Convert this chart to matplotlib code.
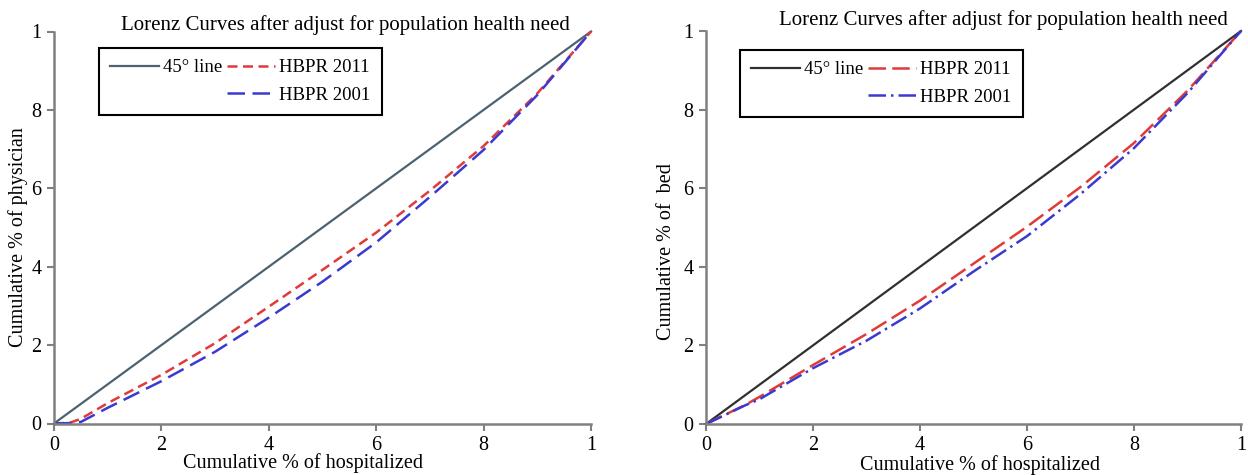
import matplotlib
matplotlib.use("Agg")
import matplotlib.pyplot as plt
from matplotlib.lines import Line2D

plt.rcParams['font.family'] = ['Liberation Serif', 'DejaVu Serif']

# cumulative share of hospitalized (x) and resources (y)
equality = [0.0, 1.0]

phys_x = [0.0, 0.03, 0.05, 0.1, 0.2, 0.3, 0.4, 0.5, 0.6, 0.7, 0.8, 0.9, 1.0]
phys_2011 = [0.0, 0.002, 0.012, 0.052, 0.124, 0.205, 0.298, 0.392, 0.487, 0.594, 0.708, 0.842, 1.0]
phys_2001 = [0.0, 0.001, 0.004, 0.040, 0.108, 0.183, 0.270, 0.362, 0.462, 0.578, 0.698, 0.838, 1.0]

bed_x = [0.0, 0.074, 0.1, 0.2, 0.3, 0.4, 0.5, 0.6, 0.7, 0.8, 0.9, 1.0]
bed_2011 = [0.0, 0.049, 0.069, 0.150, 0.229, 0.314, 0.408, 0.502, 0.603, 0.715, 0.848, 1.0]
bed_2001 = [0.0, 0.048, 0.063, 0.142, 0.212, 0.294, 0.388, 0.478, 0.585, 0.702, 0.842, 1.0]

tick_vals = [0, 0.2, 0.4, 0.6, 0.8, 1.0]
tick_labels = ['0', '2', '4', '6', '8', '1']

title = 'Lorenz Curves after adjust for population health need'

W, H = 1248, 475
fig = plt.figure(figsize=(W / 100, H / 100), dpi=100)


def px_axes(x0, x1, ytop, ybot):
    return fig.add_axes([x0 / W, 1 - ybot / H, (x1 - x0) / W, (ybot - ytop) / H])


def style_axes(ax):
    ax.set_xlim(0, 1)
    ax.set_ylim(0, 1)
    for side in ['top', 'right']:
        ax.spines[side].set_visible(False)
    for side in ['left', 'bottom']:
        ax.spines[side].set_color('#808080')
        ax.spines[side].set_linewidth(1.8)
    ax.set_xticks(tick_vals)
    ax.set_xticklabels(tick_labels)
    ax.set_yticks(tick_vals)
    ax.set_yticklabels(tick_labels)
    ax.tick_params(direction='out', length=5, width=1.5, color='#808080',
                   labelsize=14.5, pad=4)


def add_legend(ax, handles, labels, x, y):
    blank = Line2D([], [], linestyle='none')
    ax.legend([handles[0], blank, handles[1], handles[2]],
              [labels[0], '', labels[1], labels[2]],
              ncol=2, loc='upper left', bbox_to_anchor=(x / W, 1 - y / H),
              bbox_transform=fig.transFigure, borderaxespad=0,
              fontsize=13.5, handlelength=2.6, handletextpad=0.2,
              columnspacing=0.25, labelspacing=0.55, borderpad=0.6,
              fancybox=False, framealpha=1, edgecolor='black')
    ax.get_legend().get_frame().set_linewidth(1.5)


# left: physicians
ax1 = px_axes(54, 591, 31.5, 423.5)
style_axes(ax1)
l0, = ax1.plot(equality, equality, color='#4d6270', lw=1.6, clip_on=False)
l1, = ax1.plot(phys_x, phys_2011, color='#e03a3a', lw=1.8, dashes=(4, 2.2), clip_on=False)
l2, = ax1.plot(phys_x, phys_2001, color='#3a3ad0', lw=1.8, dashes=(7, 3), clip_on=False)
ax1.set_xlabel('Cumulative % of hospitalized', fontsize=14.5, va='center')
ax1.xaxis.set_label_coords(0.464, -0.101)
ax1.set_ylabel('Cumulative % of physician', fontsize=14.5, va='center')
ax1.yaxis.set_label_coords(-0.067, 0.476)
add_legend(ax1, [l0, l1, l2], ['45° line', 'HBPR 2011', 'HBPR 2001'], 99, 48)
fig.text(345 / W, 1 - 25 / H, title, fontsize=15, ha='center', va='center')

# right: beds
ax2 = px_axes(706, 1241, 31, 424)
style_axes(ax2)
r0, = ax2.plot(equality, equality, color='#303030', lw=1.6, clip_on=False)
r1, = ax2.plot(bed_x, bed_2011, color='#e03a3a', lw=1.8, dashes=(7, 2.5), clip_on=False)
r2, = ax2.plot(bed_x, bed_2001, color='#3a3ad0', lw=1.8, dashes=(7, 2, 1, 2), clip_on=False)
ax2.set_xlabel('Cumulative % of hospitalized', fontsize=14.5, va='center')
ax2.xaxis.set_label_coords(0.512, -0.104)
ax2.set_ylabel('Cumulative % of  bed', fontsize=14.5, va='center')
ax2.yaxis.set_label_coords(-0.073, 0.438)
add_legend(ax2, [r0, r1, r2], ['45° line', 'HBPR 2011', 'HBPR 2001'], 740, 50)
fig.text(1003 / W, 1 - 20 / H, title, fontsize=15, ha='center', va='center')

fig.savefig('out.png', dpi=100)
